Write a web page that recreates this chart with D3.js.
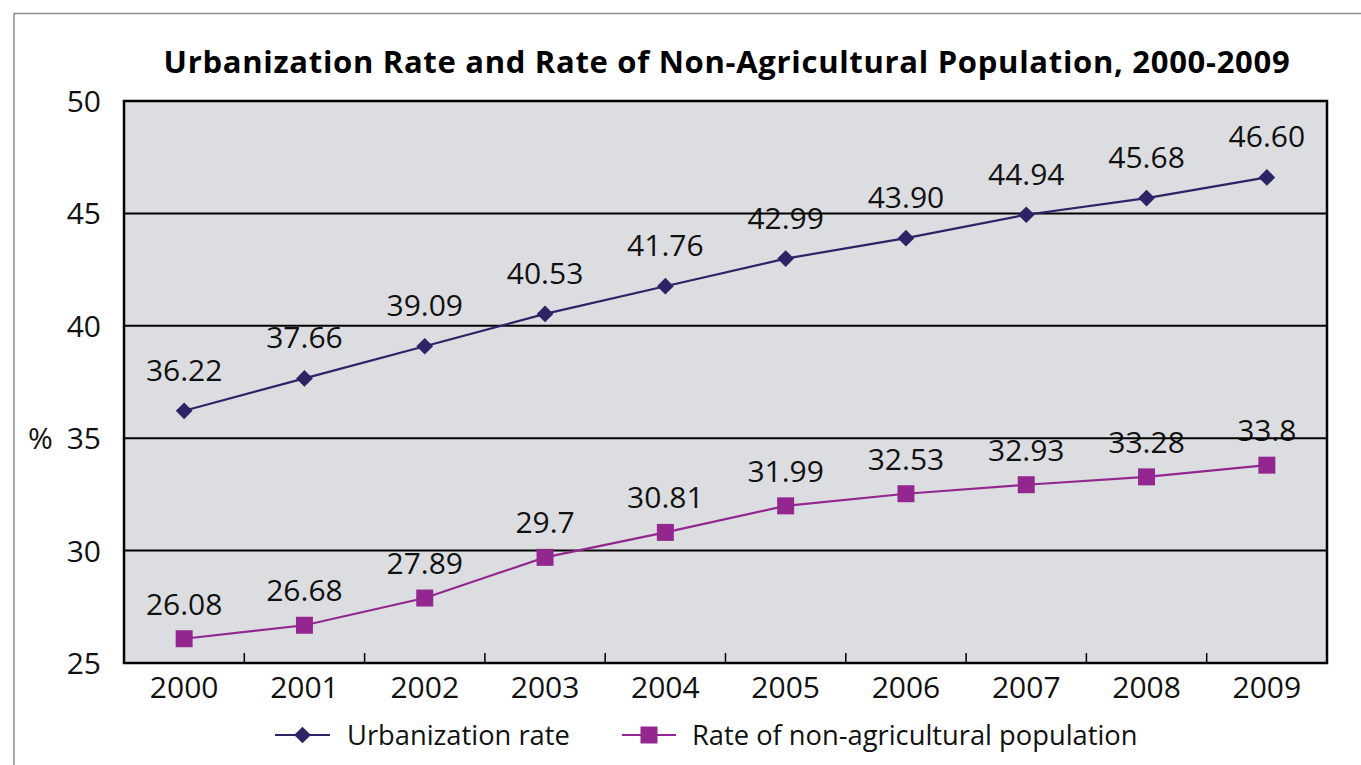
<!DOCTYPE html>
<html><head><meta charset="utf-8">
<script src="https://cdn.jsdelivr.net/npm/d3@7"></script>
<style>body{margin:0;background:#fff;} svg{display:block;} text{font-family:"Open Sans","Noto Sans",sans-serif;}</style>
</head><body>
<script>
const years = ["2000","2001","2002","2003","2004","2005","2006","2007","2008","2009"];
const urbanValues = [36.22,37.66,39.09,40.53,41.76,42.99,43.90,44.94,45.68,46.60];
const urbanLabels = ["36.22","37.66","39.09","40.53","41.76","42.99","43.90","44.94","45.68","46.60"];
const nonAgValues = [26.08,26.68,27.89,29.7,30.81,31.99,32.53,32.93,33.28,33.8];
const nonAgLabels = ["26.08","26.68","27.89","29.7","30.81","31.99","32.53","32.93","33.28","33.8"];
const yTicks = [25,30,35,40,45,50];
const gridTicks = [30,35,40,45];
const seriesNames = ["Urbanization rate","Rate of non-agricultural population"];
const titleText = "Urbanization Rate and Rate of Non-Agricultural Population, 2000-2009";

const W=1361,H=765;
const svg=d3.select("body").append("svg").attr("width",W).attr("height",H);
svg.append("rect").attr("x",14).attr("y",13.5).attr("width",1400).attr("height",800)
  .attr("fill","none").attr("stroke","#8c8c8c").attr("stroke-width",1.5);

const L=124,R=1327,T=101,B=663;
const x=d3.scaleBand().domain(years).range([L,R]);
const y=d3.scaleLinear().domain([25,50]).range([B,T]);
const cx=d=>x(d)+x.bandwidth()/2;

svg.append("text").attr("x",727).attr("y",73).attr("text-anchor","middle")
  .attr("font-weight","bold").attr("font-size",31).attr("letter-spacing",0.7).text(titleText);

svg.append("rect").attr("x",L).attr("y",T).attr("width",R-L).attr("height",B-T).attr("fill","#dcdde0");

// y tick labels
svg.selectAll(".yt").data(yTicks).enter().append("text")
  .attr("x",101).attr("y",d=>y(d)+11).attr("text-anchor","end").attr("font-size",30).attr("fill","#111").text(d=>d);
svg.append("text").attr("x",28).attr("y",y(35)+11).attr("font-size",30).attr("fill","#111").text("%");

// x labels
svg.selectAll(".xt").data(years).enter().append("text")
  .attr("x",d=>cx(d)).attr("y",698).attr("text-anchor","middle").attr("font-size",30).attr("fill","#111").text(d=>d);

const series=[
  {vals:urbanValues,labels:urbanLabels,color:"#2b2466",shape:"diamond",dy:-30},
  {vals:nonAgValues,labels:nonAgLabels,color:"#93278f",shape:"square",dy:-24}
];

// data labels
series.forEach(s=>{
  svg.append("g").selectAll("text").data(years).enter().append("text")
    .attr("x",d=>cx(d)).attr("y",(d,i)=>y(s.vals[i])+s.dy).attr("text-anchor","middle")
    .attr("font-size",30).attr("fill","#111").text((d,i)=>s.labels[i]);
});

// gridlines
svg.selectAll(".gl").data(gridTicks).enter().append("line")
  .attr("x1",L).attr("x2",R).attr("y1",d=>y(d)).attr("y2",d=>y(d)).attr("stroke","#000").attr("stroke-width",2);

// x ticks (inner, at boundaries)
svg.selectAll(".xtk").data(years.slice(1)).enter().append("line")
  .attr("x1",d=>x(d)).attr("x2",d=>x(d)).attr("y1",B).attr("y2",B-10).attr("stroke","#000").attr("stroke-width",1.5);

// lines and markers
const line=d3.line();
const symFor=s=> s.shape==="diamond" ? d3.symbol().type(d3.symbolSquare).size(140) : d3.symbol().type(d3.symbolSquare).size(289);
series.forEach(s=>{
  const pts=years.map((d,i)=>[cx(d),y(s.vals[i])]);
  svg.append("path").attr("d",line(pts)).attr("fill","none").attr("stroke",s.color).attr("stroke-width",2.2);
  svg.append("g").selectAll("path").data(pts).enter().append("path")
    .attr("d",symFor(s)).attr("fill",s.color)
    .attr("transform",p=>`translate(${p[0]},${p[1]})`+(s.shape==="diamond"?" rotate(45)":""));
});

// frame
svg.append("rect").attr("x",L).attr("y",T).attr("width",R-L).attr("height",B-T).attr("fill","none").attr("stroke","#000").attr("stroke-width",2.5);

// legend
const leg=[{x1:275,x2:330,tx:347,s:series[0],name:seriesNames[0]},{x1:622,x2:676,tx:692,s:series[1],name:seriesNames[1]}];
leg.forEach(l=>{
  const g=svg.append("g");
  g.append("line").attr("x1",l.x1).attr("x2",l.x2).attr("y1",735).attr("y2",735).attr("stroke",l.s.color).attr("stroke-width",2.2);
  g.append("path").attr("d",symFor(l.s)).attr("fill",l.s.color)
    .attr("transform",`translate(${(l.x1+l.x2)/2},735)`+(l.s.shape==="diamond"?" rotate(45)":""));
  g.append("text").attr("x",l.tx).attr("y",745).attr("font-size",27.3).attr("fill","#111").text(l.name);
});
</script>
</body></html>
